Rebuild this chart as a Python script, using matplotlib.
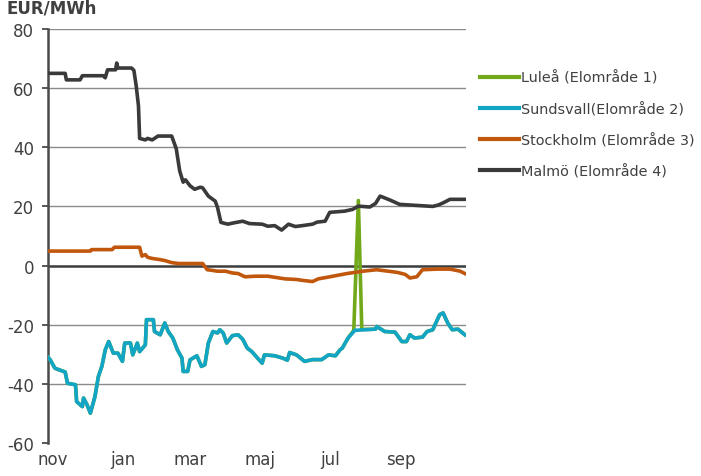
import matplotlib
matplotlib.use("Agg")

import matplotlib.pyplot as plt
import matplotlib.transforms as mtransforms
import pandas as pd

plt.rcParams["font.family"] = ["DejaVu Sans"]

START = pd.Timestamp("2012-11-01")

# dagar efter 1 nov, pris (EUR/MWh)
lulea_days = [0, 2, 6, 10, 15, 17, 24, 25, 30, 31, 34, 37, 41, 44, 47, 50, 53, 57, 61, 65,
              67, 72, 74, 78, 80, 85, 86, 92, 93, 98, 102, 105, 109, 113, 117, 118, 122, 124,
              130, 134, 137, 140, 144, 148, 150, 153, 156, 161, 166, 170, 174, 178, 183, 187,
              189, 198, 205, 209, 211, 217, 224, 231, 239, 245, 251, 255, 257, 262, 267, 271,
              274, 286, 287, 294, 303, 309, 313, 316, 320, 327, 331, 336, 342, 345, 349, 353,
              358, 364]
lulea = [-31, -31.9, -34.7, -35.3, -36, -39.8, -40.3, -46, -47.7, -44.8, -47, -49.9, -44.3,
         -37.5, -34.1, -28.5, -25.7, -29.6, -29.6, -32.4, -26.2, -26.2, -30.2, -26.2, -29.1,
         -26.8, -18.3, -18.3, -22.3, -23.4, -19.4, -22.3, -24.5, -28.5, -31.3, -35.8, -35.8,
         -31.9, -30.5, -34.1, -33.5, -26.2, -22.3, -22.8, -21.7, -22.8, -26.2, -23.7, -23.4,
         -24.9, -27.9, -29.1, -31.3, -33, -30.2, -30.5, -31.3, -32, -29.4, -30.2, -32.4, -31.8,
         -31.8, -30.2, -30.5, -28.5, -27.9, -24.5, -21.9, 22, -21.6, -21.5, -20.6, -22.3, -22.5,
         -25.7, -25.7, -23.4, -24.5, -24.2, -22.3, -21.7, -16.6, -16, -19.4, -21.7, -21.5, -23.4]

sundsvall_days = [0, 2, 6, 10, 15, 17, 24, 25, 30, 31, 34, 37, 41, 44, 47, 50, 53, 57, 61, 65,
                  67, 72, 74, 78, 80, 85, 86, 92, 93, 98, 102, 105, 109, 113, 117, 118, 122, 124,
                  130, 134, 137, 140, 144, 148, 150, 153, 156, 161, 166, 170, 174, 178, 183, 187,
                  189, 198, 205, 209, 211, 217, 224, 231, 239, 245, 251, 255, 257, 262, 268, 286,
                  287, 294, 303, 309, 313, 316, 320, 327, 331, 336, 342, 345, 349, 353, 358, 364]
sundsvall = [-31, -31.9, -34.7, -35.3, -36, -39.8, -40.3, -46, -47.7, -44.8, -47, -49.9, -44.3,
             -37.5, -34.1, -28.5, -25.7, -29.6, -29.6, -32.4, -26.2, -26.2, -30.2, -26.2, -29.1,
             -26.8, -18.3, -18.3, -22.3, -23.4, -19.4, -22.3, -24.5, -28.5, -31.3, -35.8, -35.8,
             -31.9, -30.5, -34.1, -33.5, -26.2, -22.3, -22.8, -21.7, -22.8, -26.2, -23.7, -23.4,
             -24.9, -27.9, -29.1, -31.3, -33, -30.2, -30.5, -31.3, -32, -29.4, -30.2, -32.4, -31.8,
             -31.8, -30.2, -30.5, -28.5, -27.9, -24.5, -21.9, -21.5, -20.6, -22.3, -22.5, -25.7,
             -25.7, -23.4, -24.5, -24.2, -22.3, -21.7, -16.6, -16, -19.4, -21.7, -21.5, -23.4]

stockholm_days = [0, 37, 38, 56, 58, 80, 82, 85, 87, 91, 98, 102, 108, 114, 135, 139, 143, 148,
                  155, 161, 166, 172, 181, 192, 207, 217, 222, 231, 236, 246, 261, 275, 287, 305,
                  312, 316, 322, 327, 340, 351, 360, 364]
stockholm = [4.9, 4.9, 5.4, 5.4, 6.2, 6.2, 3.2, 3.7, 2.8, 2.4, 2, 1.7, 1, 0.7, 0.7, -1.4, -1.6,
             -1.9, -1.9, -2.5, -2.7, -3.8, -3.6, -3.6, -4.5, -4.7, -5, -5.4, -4.5, -3.8, -2.7,
             -1.9, -1.4, -2.3, -3, -4.2, -3.8, -1.4, -1.2, -1.2, -1.9, -2.7]

malmo_days = [0, 15, 16, 28, 30, 48, 50, 52, 59, 60, 61, 73, 75, 77, 79, 80, 85, 87, 91, 93, 96,
              108, 112, 115, 118, 120, 124, 128, 133, 135, 140, 146, 148, 151, 157, 163, 170,
              176, 187, 192, 198, 204, 210, 216, 222, 231, 235, 242, 246, 259, 266, 271, 281,
              286, 290, 299, 307, 336, 341, 345, 351, 364]
malmo = [65, 65, 62.8, 62.8, 64.2, 64.2, 63.5, 66.2, 66.2, 68.5, 66.8, 66.8, 66, 60.8, 54, 43,
         42.5, 43, 42.5, 43, 43.8, 43.8, 39.5, 32, 28.2, 29, 27, 25.8, 26.5, 26.3, 23.5, 21.8,
         19.7, 14.6, 14, 14.5, 15, 14.2, 14, 13.3, 13.5, 12, 14, 13.2, 13.5, 14, 14.7, 15, 18,
         18.4, 19, 20.1, 19.8, 21, 23.5, 22.1, 20.7, 20, 20.5, 21.2, 22.4, 22.4]

series_names = ["Luleå (Elområde 1)", "Sundsvall(Elområde 2)",
                "Stockholm (Elområde 3)", "Malmö (Elområde 4)"]
series_colors = ["#72A91A", "#12A5C6", "#C0570C", "#3A3A3A"]

tick_months = ["2012-11-01", "2013-01-01", "2013-03-01", "2013-05-01", "2013-07-01", "2013-09-01"]
tick_labels = ["nov", "jan", "mar", "maj", "jul", "sep"]
y_ticks = [-60, -40, -20, 0, 20, 40, 60, 80]


def to_dates(days):
    return START + pd.to_timedelta(days, unit="D")


TEXT = "#404040"

fig = plt.figure(figsize=(7.01, 4.77), dpi=100)
ax = fig.add_axes([48 / 701, 1 - 444 / 477, 418 / 701, 414 / 477])

# horisontella rutnätslinjer, nollan kraftigare
for y in y_ticks:
    if y == -60:
        continue
    if y == 0:
        ax.axhline(y, color="#3c3c3c", lw=1.8, zorder=1)
    else:
        ax.axhline(y, color="#8a8a8a", lw=1.0, zorder=1)

all_days = [lulea_days, sundsvall_days, stockholm_days, malmo_days]
all_vals = [lulea, sundsvall, stockholm, malmo]
for days, vals, name, col in zip(all_days, all_vals, series_names, series_colors):
    ax.plot(to_dates(days), vals, color=col, lw=2.6, label=name, zorder=3,
            solid_joinstyle="round")

ax.set_xlim(START, START + pd.Timedelta(days=365))
ax.set_ylim(-60, 80)
ax.set_yticks(y_ticks)
ax.set_yticklabels([str(v) for v in y_ticks])
ax.set_xticks(pd.to_datetime(tick_months))
ax.set_xticklabels(tick_labels)

for s in ["top", "right", "bottom"]:
    ax.spines[s].set_visible(False)
ax.spines["left"].set_color("#4a4a4a")
ax.spines["left"].set_linewidth(1.8)

ax.tick_params(axis="y", length=4, width=1.3, color="#4a4a4a", pad=6,
               labelsize=12, labelcolor=TEXT)
ax.tick_params(axis="x", length=0, pad=5, labelsize=12, labelcolor=TEXT)

# månadsetiketterna sitter lite till höger om månadsskiftet
shift = mtransforms.ScaledTranslation(5 / 100, 0, fig.dpi_scale_trans)
for lbl in ax.get_xticklabels():
    lbl.set_transform(lbl.get_transform() + shift)

fig.text(7 / 701, 1 - 13.5 / 477, "EUR/MWh", fontsize=12, fontweight="bold",
         color=TEXT, va="baseline", ha="left")

leg = ax.legend(loc="upper left", bbox_to_anchor=(1.02, 0.914), frameon=False,
                handlelength=2.7, handletextpad=0.12, labelspacing=1.16,
                fontsize=10.4, borderaxespad=0)
for t in leg.get_texts():
    t.set_color(TEXT)
for h in leg.legend_handles:
    h.set_linewidth(3)

fig.savefig("out.png", dpi=100)
